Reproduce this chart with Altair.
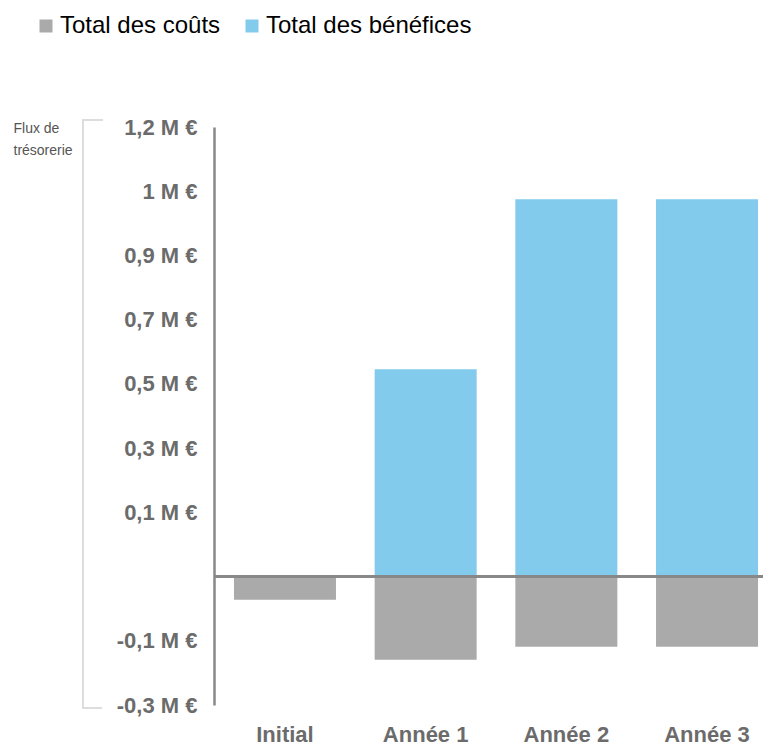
import altair as alt
import pandas as pd

categories = ["Initial", "Année 1", "Année 2", "Année 3"]
series = ["Total des coûts", "Total des bénéfices"]
couts = [-0.060, -0.216, -0.182, -0.182]
benefices = [None, 0.538, 0.979, 0.979]
colors = ["#AAAAAA", "#82CBEC"]

tick_values = [-2 / 6, -1 / 6, 1 / 6, 2 / 6, 3 / 6, 4 / 6, 5 / 6, 1.0, 7 / 6]
tick_labels = ["-0,3 M €", "-0,1 M €", "0,1 M €", "0,3 M €", "0,5 M €",
               "0,7 M €", "0,9 M €", "1 M €", "1,2 M €"]
y_title = ["Flux de", "trésorerie"]

rows = []
for c, v in zip(categories, couts):
    rows.append({"cat": c, "series": series[0], "value": v})
for c, v in zip(categories, benefices):
    if v is not None:
        rows.append({"cat": c, "series": series[1], "value": v})
df = pd.DataFrame(rows)

# label expression built from the tick lists
expr = "''"
for v, lab in reversed(list(zip(tick_values, tick_labels))):
    expr = f"abs(datum.value - ({v:.6f})) < 0.001 ? '{lab}' : ({expr})"

FONT = "Liberation Sans"
W, H = 549, 578

x_enc = alt.X(
    "cat:N",
    sort=categories,
    scale=alt.Scale(range=[0, 564], paddingInner=0.275, paddingOuter=0.142),
    axis=alt.Axis(title=None, labelAngle=0, domain=False, ticks=False,
                  labelFontSize=22, labelFontWeight="bold", labelColor="#6b6b6b",
                  labelFont=FONT, labelPadding=19),
)
y_scale = alt.Scale(domain=[-2 / 6, 7 / 6], nice=False, zero=False)

bars = alt.Chart(df).mark_bar().encode(
    x=x_enc,
    y=alt.Y(
        "value:Q",
        scale=y_scale,
        axis=alt.Axis(
            values=tick_values, labelExpr=expr, grid=False, ticks=False,
            domainColor="#888888", domainWidth=2.5,
            labelFontSize=22, labelFontWeight="bold", labelColor="#6b6b6b",
            labelFont=FONT, labelPadding=17,
            title=y_title, titleAngle=0, titleAlign="left", titleBaseline="top",
            titleX=-201, titleY=-6, titleFontSize=14, titleFontWeight="normal",
            titleColor="#555555", titleFont=FONT, titleLineHeight=22,
        ),
    ),
    color=alt.Color(
        "series:N",
        scale=alt.Scale(domain=series, range=colors),
        legend=alt.Legend(
            title=None, orient="none", legendX=-180, legendY=-113,
            direction="horizontal", symbolType="square", symbolSize=169,
            symbolStrokeWidth=0, labelFontSize=24, labelColor="#000000",
            labelFont=FONT, labelOffset=2, columnPadding=19, padding=0,
            labelLimit=0,
        ),
    ),
)

zero = alt.Chart(pd.DataFrame({"v": [0]})).mark_rule(
    color="#888888", strokeWidth=3
).encode(y=alt.Y("v:Q", scale=y_scale), x=alt.value(0), x2=alt.value(570))

bracket_v = alt.Chart(pd.DataFrame({"v": [0]})).mark_rule(
    color="#dddddd", strokeWidth=2
).encode(x=alt.value(-131), y=alt.value(-7), y2=alt.value(581))
bracket_t = alt.Chart(pd.DataFrame({"v": [0]})).mark_rule(
    color="#dddddd", strokeWidth=2
).encode(x=alt.value(-132), x2=alt.value(-111), y=alt.value(-7))
bracket_b = alt.Chart(pd.DataFrame({"v": [0]})).mark_rule(
    color="#dddddd", strokeWidth=2
).encode(x=alt.value(-132), x2=alt.value(-112), y=alt.value(581))

chart = alt.layer(bars, zero, bracket_v, bracket_t, bracket_b).properties(
    width=W, height=H,
    autosize=alt.AutoSizeParams(type="none"),
    padding={"left": 206, "top": 119, "right": 0, "bottom": 40},
).configure_view(stroke=None)

chart.save("out.html", embed_options={"renderer": "svg", "actions": False})
